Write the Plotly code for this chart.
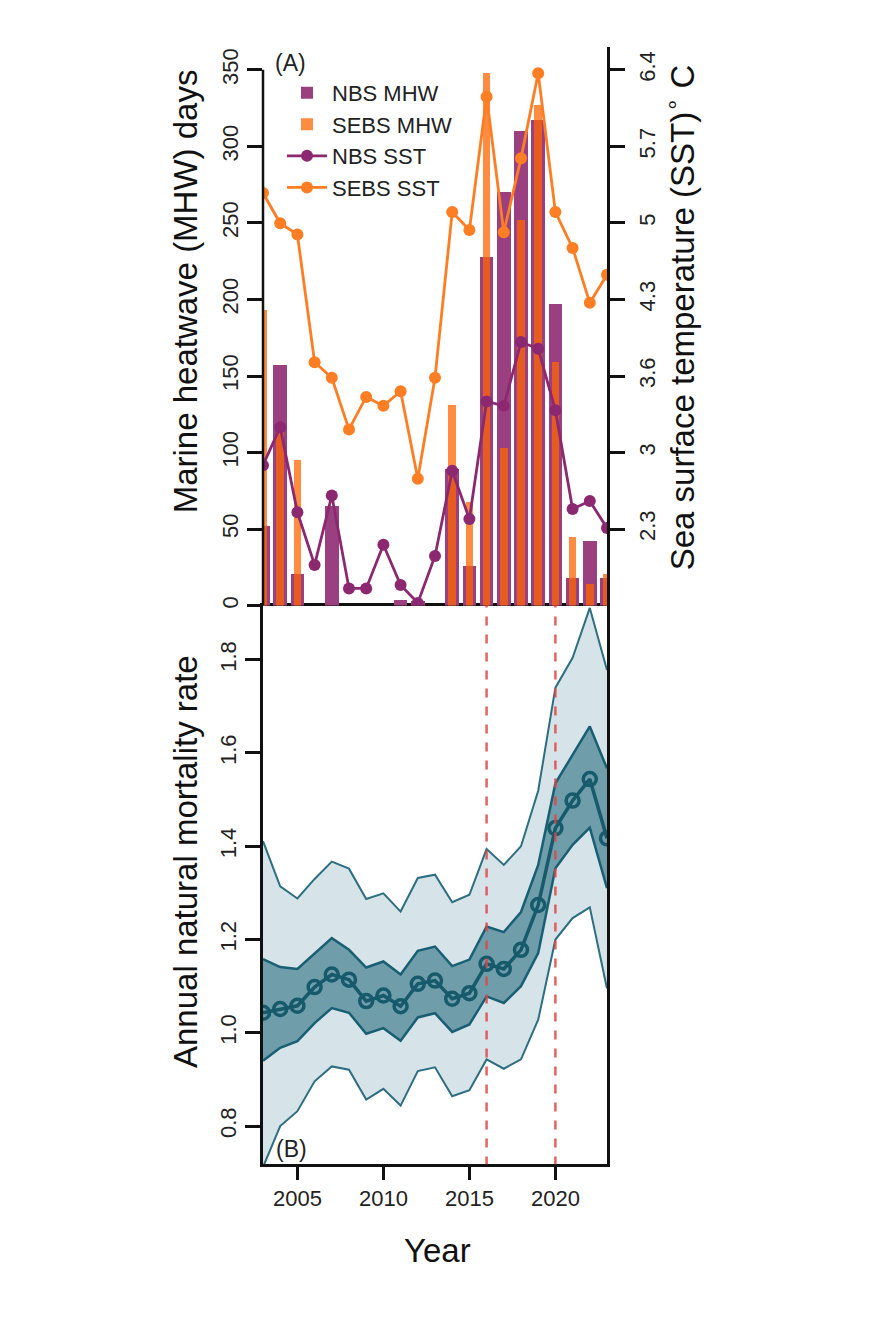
import plotly.graph_objects as go

W, H = 880, 1319

years = list(range(2003, 2024))

nbs_mhw = [52, 157, 21, 0, 65, 0, 0, 0, 4, 3, 0, 89, 26, 228, 270, 310, 317, 197, 18, 42, 18]
sebs_mhw = [193, 115, 95, 0, 0, 0, 0, 0, 0, 0, 0, 131, 68, 348, 103, 252, 327, 159, 45, 14, 21]

nbs_sst = [2.87, 3.21, 2.45, 1.98, 2.60, 1.77, 1.77, 2.16, 1.80, 1.64, 2.06, 2.82, 2.39,
           3.44, 3.40, 3.97, 3.91, 3.36, 2.48, 2.55, 2.31]
sebs_sst = [5.30, 5.03, 4.93, 3.79, 3.65, 3.19, 3.48, 3.40, 3.53, 2.75, 3.65, 5.13, 4.97,
            6.16, 4.95, 5.61, 6.37, 5.13, 4.81, 4.32, 4.57]

m_med = [1.043, 1.051, 1.058, 1.098, 1.125, 1.114, 1.068, 1.080, 1.057, 1.105, 1.112, 1.073,
         1.085, 1.148, 1.137, 1.178, 1.274, 1.439, 1.498, 1.544, 1.417]
m_in_lo = [0.940, 0.968, 0.982, 1.021, 1.053, 1.043, 0.998, 1.010, 0.983, 1.033, 1.042, 1.002,
           1.018, 1.078, 1.064, 1.100, 1.171, 1.353, 1.403, 1.440, 1.310]
m_in_hi = [1.158, 1.141, 1.137, 1.170, 1.203, 1.178, 1.140, 1.153, 1.125, 1.176, 1.185, 1.143,
           1.157, 1.228, 1.216, 1.259, 1.360, 1.535, 1.596, 1.657, 1.567]
m_out_lo = [0.712, 0.800, 0.832, 0.896, 0.928, 0.921, 0.857, 0.880, 0.844, 0.918, 0.926, 0.864,
            0.877, 0.943, 0.923, 0.943, 1.028, 1.200, 1.246, 1.269, 1.095]
m_out_hi = [1.411, 1.314, 1.288, 1.330, 1.367, 1.352, 1.287, 1.299, 1.260, 1.332, 1.339, 1.280,
            1.296, 1.394, 1.360, 1.400, 1.519, 1.740, 1.804, 1.911, 1.778]

mhw_ticks = [0, 50, 100, 150, 200, 250, 300, 350]
sst_ticktext = ["2.3", "3", "3.6", "4.3", "5", "5.7", "6.4"]
mort_ticks = [0.8, 1.0, 1.2, 1.4, 1.6, 1.8]
mort_ticktext = ["0.8", "1.0", "1.2", "1.4", "1.6", "1.8"]
year_ticks = [2005, 2010, 2015, 2020]
event_years = [2016, 2020]

# layout geometry (pixels)
X0, X1 = 263, 607
TOP_Y0, TOP_Y1 = 47, 607
BOT_Y0, BOT_Y1 = 607, 1167
AX_C = "#111111"
FONT = "Liberation Sans, Arial, sans-serif"
TICKF = 22
TITLEF = 33

def px(x):
    return x / W

def py(y):
    return 1 - y / H

mhw_top = 350 * (TOP_Y1 - TOP_Y0) / (TOP_Y1 - 70)
sst_lo = 2.3 - 50 * 4.1 / 300
sst_hi = 2.3 + (mhw_top - 50) * 4.1 / 300
sst_tickvals = [2.3 + i * 4.1 / 6 for i in range(7)]

PURPLE_BAR = "rgb(154,64,128)"
ORANGE_BAR = "rgba(255,102,0,0.75)"
PURPLE_LINE = "rgb(140,40,112)"
ORANGE_LINE = "rgb(255,125,35)"

fig = go.Figure()

fig.add_trace(go.Bar(x=years, y=nbs_mhw, width=0.8, marker=dict(color=PURPLE_BAR, line=dict(width=0)),
                     name="NBS MHW", xaxis="x2", yaxis="y3"))
fig.add_trace(go.Bar(x=years, y=sebs_mhw, width=0.45, marker=dict(color=ORANGE_BAR, line=dict(width=0)),
                     name="SEBS MHW", xaxis="x2", yaxis="y3"))
fig.add_trace(go.Scatter(x=years, y=nbs_sst, mode="lines+markers", name="NBS SST",
                         line=dict(color=PURPLE_LINE, width=2.8), marker=dict(size=12, color=PURPLE_LINE),
                         xaxis="x2", yaxis="y4"))
fig.add_trace(go.Scatter(x=years, y=sebs_sst, mode="lines+markers", name="SEBS SST",
                         line=dict(color=ORANGE_LINE, width=2.8), marker=dict(size=12, color=ORANGE_LINE),
                         xaxis="x2", yaxis="y4"))

EDGE_OUT = "rgb(45,110,128)"
EDGE_IN = "rgb(25,95,115)"
fig.add_trace(go.Scatter(x=years, y=m_out_lo, mode="lines", line=dict(color=EDGE_OUT, width=2),
                         showlegend=False, xaxis="x", yaxis="y"))
fig.add_trace(go.Scatter(x=years, y=m_out_hi, mode="lines", line=dict(color=EDGE_OUT, width=2),
                         fill="tonexty", fillcolor="rgb(214,228,233)", showlegend=False, xaxis="x", yaxis="y"))
fig.add_trace(go.Scatter(x=years, y=m_in_lo, mode="lines", line=dict(color=EDGE_IN, width=2.5),
                         showlegend=False, xaxis="x", yaxis="y"))
fig.add_trace(go.Scatter(x=years, y=m_in_hi, mode="lines", line=dict(color=EDGE_IN, width=2.5),
                         fill="tonexty", fillcolor="rgb(111,157,170)", showlegend=False, xaxis="x", yaxis="y"))
fig.add_trace(go.Scatter(x=years, y=m_med, mode="lines+markers", line=dict(color="rgb(22,90,108)", width=3.5),
                         marker=dict(symbol="circle-open", size=13, line=dict(width=3.5, color="rgb(22,90,108)")),
                         showlegend=False, xaxis="x", yaxis="y"))

shapes = []
for ey in event_years:
    shapes.append(dict(type="line", xref="x", yref="y", x0=ey, x1=ey, y0=0.6, y1=2.0,
                       line=dict(color="rgba(222,70,70,0.85)", width=2.5, dash="dash"), layer="above"))
# left axis line of top panel spans tick range only
shapes.append(dict(type="line", xref="paper", yref="y3", x0=px(X0), x1=px(X0), y0=0, y1=350,
                   line=dict(color=AX_C, width=2.5)))

common_tick = dict(ticks="outside", tickcolor=AX_C, tickwidth=2.5, linecolor=AX_C, linewidth=2.5,
                   showgrid=False, zeroline=False, tickfont=dict(size=TICKF, color="#222", family=FONT))

def title_ann(text, x, y, angle):
    return dict(text=text, x=px(x), y=py(y), xref="paper", yref="paper", showarrow=False,
                textangle=angle, xanchor="center", yanchor="middle",
                font=dict(size=TITLEF, color="#111", family=FONT))

fig.update_layout(
    width=W, height=H, margin=dict(l=0, r=0, t=0, b=0),
    paper_bgcolor="white", plot_bgcolor="white",
    barmode="overlay", bargap=0,
    font=dict(family=FONT, color="#222"),
    xaxis=dict(domain=[px(X0), px(X1)], range=[2003, 2023], anchor="y", tickvals=year_ticks,
               ticklen=13, showline=True, mirror=True, **common_tick),
    yaxis=dict(domain=[py(BOT_Y1), py(BOT_Y0)], range=[0.718, 1.916], anchor="x", tickvals=mort_ticks,
               ticktext=mort_ticktext, tickangle=-90, ticklen=15, showline=True, mirror=True, **common_tick),
    xaxis2=dict(domain=[px(X0), px(X1)], range=[2003, 2023], anchor="y3", matches="x",
                showticklabels=False, ticks="", showline=False, showgrid=False, zeroline=False),
    yaxis3=dict(domain=[py(TOP_Y1), py(TOP_Y0)], range=[0, mhw_top], anchor="x2", tickvals=mhw_ticks,
                tickangle=-90, ticklen=15, showline=False, **common_tick),
    yaxis4=dict(overlaying="y3", side="right", anchor="x2", range=[sst_lo, sst_hi],
                tickvals=sst_tickvals, ticktext=sst_ticktext, tickangle=-90, ticklen=15,
                ticklabelstandoff=4, showline=True, **common_tick),
    legend=dict(x=px(282), y=py(72), xanchor="left", yanchor="top", bgcolor="rgba(0,0,0,0)",
                traceorder="normal", font=dict(size=22, color="#222", family=FONT),
                tracegroupgap=0, itemwidth=40),
    shapes=shapes,
    annotations=[
        dict(text="(A)", x=px(290), y=py(63), xref="paper", yref="paper", showarrow=False,
             xanchor="center", yanchor="middle", font=dict(size=23, color="#222", family=FONT)),
        dict(text="(B)", x=px(291), y=py(1152), xref="paper", yref="paper", showarrow=False,
             xanchor="center", yanchor="middle", font=dict(size=23, color="#222", family=FONT)),
        title_ann("Marine heatwave (MHW) days", 185, 292, -90),
        title_ann("Sea surface temperature (SST)<sup>∘</sup> C", 680, 318, -90),
        title_ann("Annual natural mortality rate", 185, 864, -90),
        title_ann("Year", 437, 1253, 0),
    ],
)

fig.write_html("out.html")
